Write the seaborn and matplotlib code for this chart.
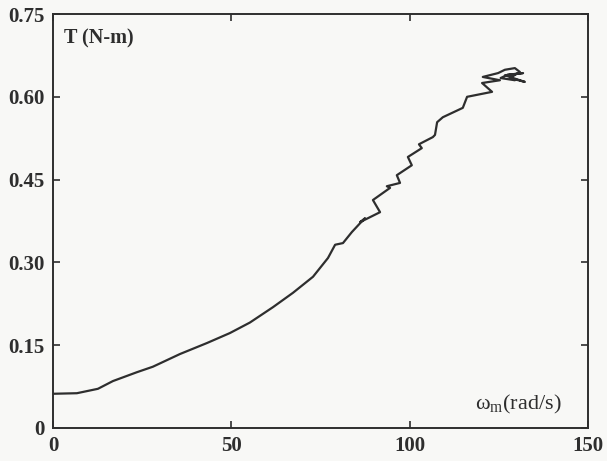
import matplotlib
matplotlib.use("Agg")
import matplotlib.pyplot as plt
import seaborn as sns
import pandas as pd

# Torque vs. mechanical speed, traced in order (the curve turns back on itself near the end)
speed = [0, 6.7, 12.6, 16.8, 23.5, 28, 35.6, 43.2, 49.6, 55.2, 61.7, 67.3, 72.9,
         77.1, 79.1, 81.3, 83.8, 86.1, 87.5, 86.1, 91.7, 89.7, 94.5, 93.6, 97.3,
         96.4, 100.6, 99.5, 103.4, 102.6, 106.5, 107.1, 107.7, 109.3, 114.9,
         116.1, 123.1, 120.3, 125.3, 120.5, 124.8, 126.7, 129.5, 130.9, 128.1,
         132.3, 126.7, 131.8, 127.5, 125.5, 129.5]
torque = [0.062, 0.063, 0.071, 0.085, 0.101, 0.111, 0.134, 0.154, 0.172, 0.191,
          0.219, 0.245, 0.274, 0.308, 0.332, 0.335, 0.355, 0.371, 0.380, 0.373,
          0.391, 0.413, 0.435, 0.438, 0.444, 0.458, 0.476, 0.491, 0.507, 0.514,
          0.527, 0.531, 0.554, 0.563, 0.580, 0.600, 0.609, 0.625, 0.630, 0.636,
          0.643, 0.649, 0.652, 0.645, 0.634, 0.627, 0.639, 0.643, 0.640, 0.634,
          0.630]

xticks = [0, 50, 100, 150]
yticks = [0, 0.15, 0.30, 0.45, 0.60, 0.75]
ytick_labels = ["0", "0.15", "0.30", "0.45", "0.60", "0.75"]

df = pd.DataFrame({"speed": speed, "torque": torque})

sns.set_style("ticks")
plt.rcParams["font.family"] = ["Liberation Serif", "DejaVu Serif"]
plt.rcParams["mathtext.fontset"] = "custom"
plt.rcParams["mathtext.rm"] = "Liberation Serif"
plt.rcParams["mathtext.it"] = "Liberation Serif"

ink = "#2e2e2e"
fig = plt.figure(figsize=(6.07, 4.61), dpi=100, facecolor="#f8f8f6")
ax = fig.add_axes([0.0873, 0.0716, 0.8814, 0.898])
ax.set_facecolor("#f8f8f6")

sns.lineplot(data=df, x="speed", y="torque", sort=False, estimator=None,
             color=ink, linewidth=1.6, ax=ax)

ax.set_xlim(0, 150)
ax.set_ylim(0, 0.75)
ax.set_xticks(xticks)
ax.set_yticks(yticks)
ax.set_xticklabels([str(v) for v in xticks], fontweight="bold", fontsize=15)
ax.set_yticklabels(ytick_labels, fontweight="bold", fontsize=15)
ax.tick_params(direction="in", top=True, right=True, length=5, width=1.2,
               colors=ink, pad=6)
for s in ax.spines.values():
    s.set_color(ink)
    s.set_linewidth(1.4)
    s.set_visible(True)

ax.set_xlabel("")
ax.set_ylabel("")
ax.text(0.02, 0.965, "T (N-m)", transform=ax.transAxes, ha="left", va="top",
        fontsize=14.5, fontweight="bold", color=ink)
ax.text(0.95, 0.03, r"$\mathrm{ω_m}$(rad/s)", transform=ax.transAxes,
        ha="right", va="bottom", fontsize=16, color=ink)

fig.savefig("out.png", dpi=100, facecolor=fig.get_facecolor())
